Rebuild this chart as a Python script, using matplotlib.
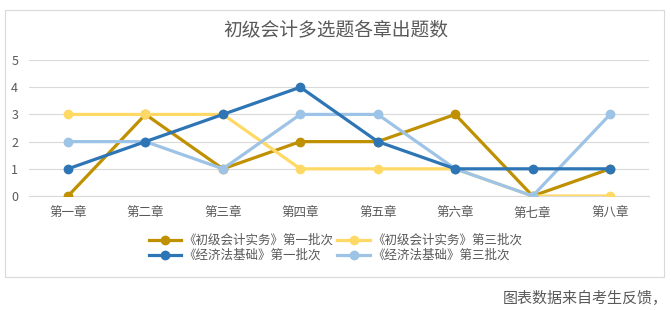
import matplotlib
matplotlib.use('Agg')
import matplotlib.pyplot as plt
from matplotlib.patches import Rectangle

plt.rcParams['font.family'] = ['Noto Sans CJK SC', 'DejaVu Sans']

# data
chapters = ['第一章', '第二章', '第三章', '第四章', '第五章', '第六章', '第七章', '第八章']
shiwu_1 = [0, 3, 1, 2, 2, 3, 0, 1]
shiwu_3 = [3, 3, 3, 1, 1, 1, 0, 0]
jingji_1 = [1, 2, 3, 4, 2, 1, 1, 1]
jingji_3 = [2, 2, 1, 3, 3, 1, 0, 3]
names = ['《初级会计实务》第一批次', '《初级会计实务》第三批次',
         '《经济法基础》第一批次', '《经济法基础》第三批次']
colors = ['#BF9000', '#FFD966', '#2E75B6', '#9DC3E6']
yticks = [0, 1, 2, 3, 4, 5]

fig = plt.figure(figsize=(6.71, 3.10), dpi=100)
fig.patch.set_facecolor('white')

# outer chart border
fig.patches.append(Rectangle((5 / 671, 1 - 277 / 310), 659 / 671, 267 / 310,
                             transform=fig.transFigure, fill=False,
                             edgecolor='#D9D9D9', linewidth=0.8))

ax = fig.add_axes([0.0437, 0.3677, 0.9232, 0.4387])
x = range(len(chapters))
lines = []
for vals, c, name in zip([shiwu_1, shiwu_3, jingji_1, jingji_3], colors, names):
    ln, = ax.plot(x, vals, color=c, linewidth=2.3, marker='o', markersize=6,
                  label=name, zorder=3)
    lines.append(ln)

# dark blue on top like the original
lines[2].set_zorder(4)

ax.set_xlim(-0.5, len(chapters) - 0.5)
ax.set_ylim(0, 5)
ax.set_yticks(yticks)
ax.set_xticks(list(x))
ax.set_xticklabels(chapters)
ax.grid(axis='y', color='#D9D9D9', linewidth=0.8)
ax.set_axisbelow(True)
for s in ['top', 'right', 'left']:
    ax.spines[s].set_visible(False)
ax.spines['bottom'].set_color('#D9D9D9')
ax.tick_params(axis='both', length=0, labelsize=9, colors='#595959')
ax.tick_params(axis='x', pad=8)
ax.tick_params(axis='y', pad=8)

fig.text(0.5, 1 - 30 / 310, '初级会计多选题各章出题数', ha='center', va='center',
         fontsize=13.5, color='#595959', fontweight='light')

handles = [lines[0], lines[2], lines[1], lines[3]]
labels = [names[0], names[2], names[1], names[3]]
fig.legend(handles, labels, ncol=2, loc='center', bbox_to_anchor=(0.5, 1 - 248 / 310),
           frameon=False, fontsize=9, handlelength=2.6, handletextpad=0.2,
           columnspacing=0.3, labelspacing=0.15, labelcolor='#595959', borderpad=0)

fig.text(503 / 671, 1 - 298 / 310, '图表数据来自考生反馈，', ha='left', va='center',
         fontsize=10.8, color='#595959')

fig.savefig('out.png', dpi=100, facecolor='white')
